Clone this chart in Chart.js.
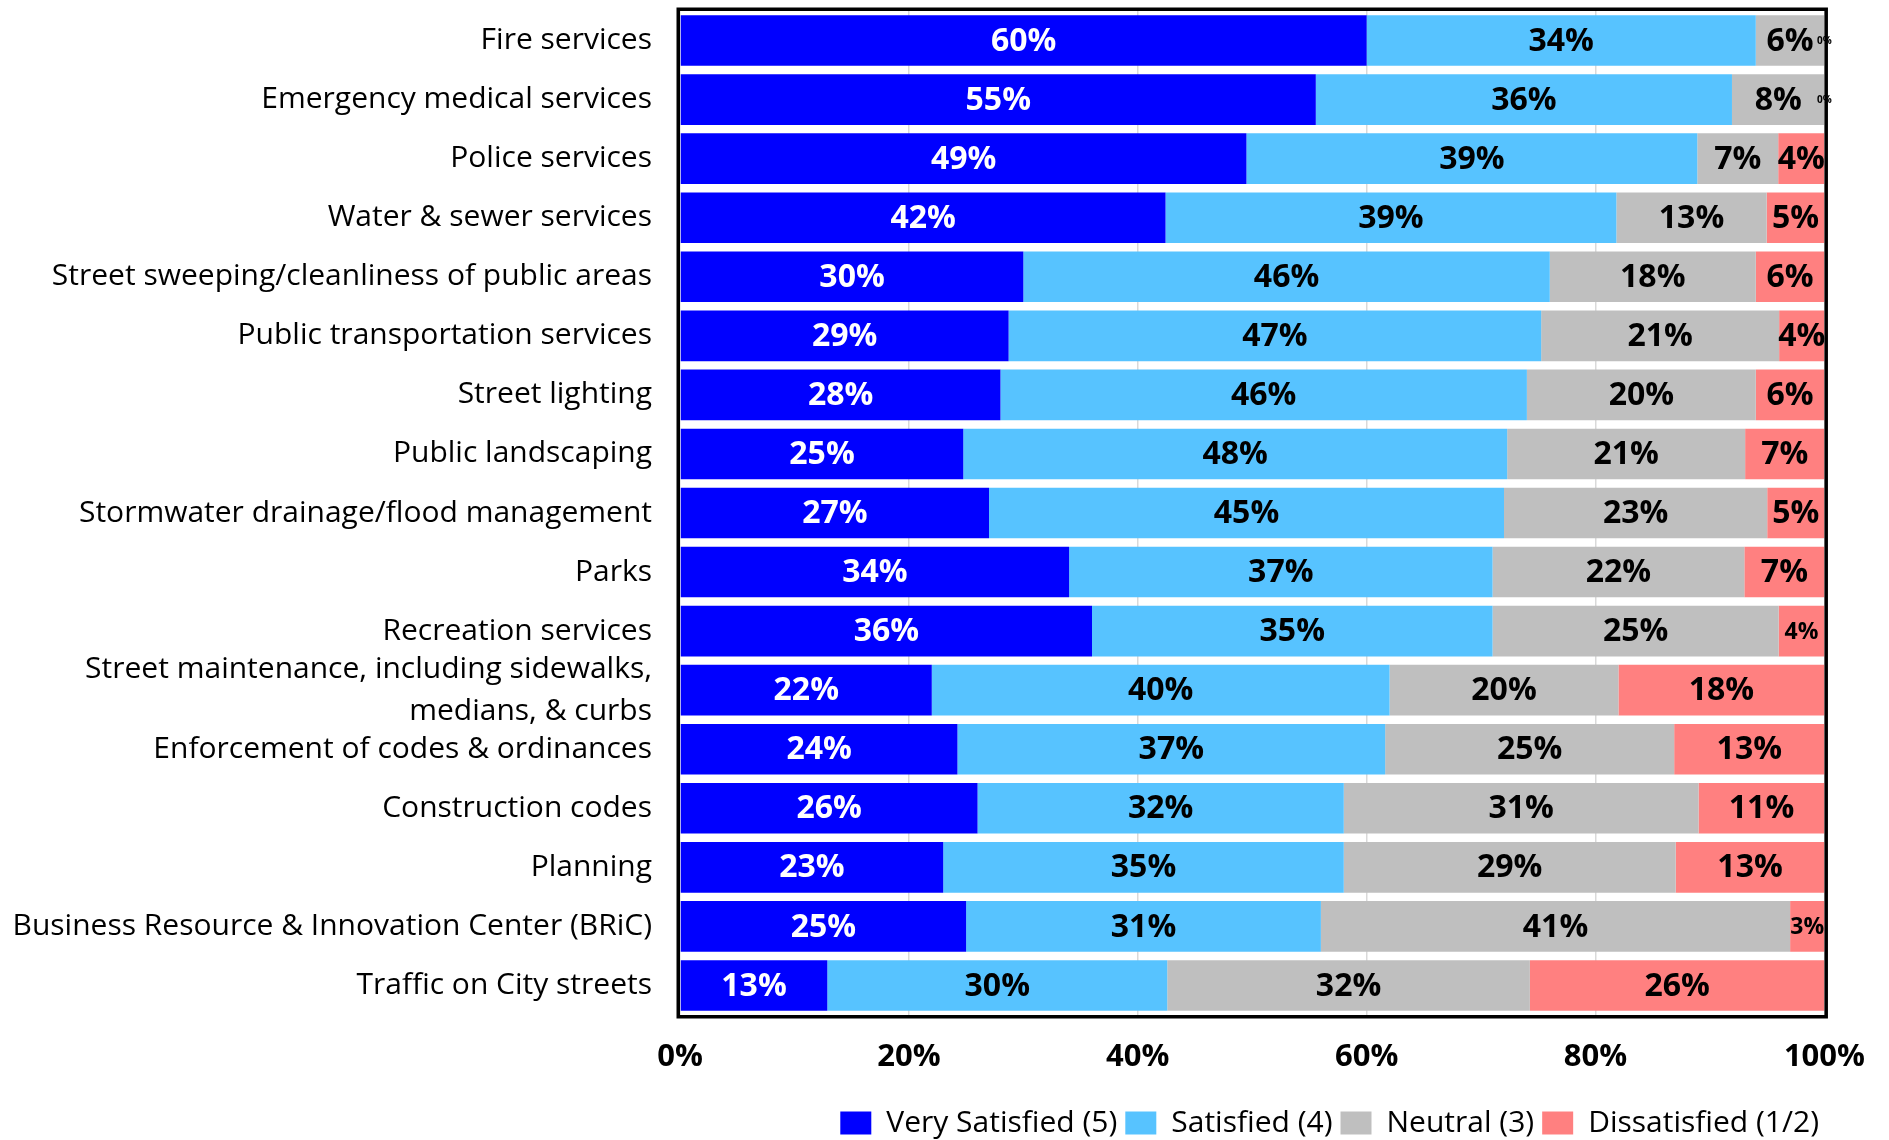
<!DOCTYPE html>
<html>
<head>
<meta charset="utf-8">
<script src="https://cdn.jsdelivr.net/npm/chart.js@4/dist/chart.umd.min.js"></script>
<style>
  html, body { margin: 0; padding: 0; background: #ffffff; }
  #wrap { width: 1889px; height: 1140px; position: relative; }
</style>
</head>
<body>
<div id="wrap"><canvas id="chart" width="1889" height="1140"></canvas></div>
<script>
// Resident satisfaction with city services (percent of respondents)
const categories = [
  'Fire services',
  'Emergency medical services',
  'Police services',
  'Water & sewer services',
  'Street sweeping/cleanliness of public areas',
  'Public transportation services',
  'Street lighting',
  'Public landscaping',
  'Stormwater drainage/flood management',
  'Parks',
  'Recreation services',
  ['Street maintenance, including sidewalks,', 'medians, & curbs'],
  'Enforcement of codes & ordinances',
  'Construction codes',
  'Planning',
  'Business Resource & Innovation Center (BRiC)',
  'Traffic on City streets'
];

const verySatisfied = [60, 55, 49, 42, 30, 29, 28, 25, 27, 34, 36, 22, 24, 26, 23, 25, 13];
const satisfied     = [34, 36, 39, 39, 46, 47, 46, 48, 45, 37, 35, 40, 37, 32, 35, 31, 30];
const neutral       = [ 6,  8,  7, 13, 18, 21, 20, 21, 23, 22, 25, 20, 25, 31, 29, 41, 32];
const dissatisfied  = [ 0,  0,  4,  5,  6,  4,  6,  7,  5,  7,  4, 18, 13, 11, 13,  3, 26];

const seriesNames = ['Very Satisfied (5)', 'Satisfied (4)', 'Neutral (3)', 'Dissatisfied (1/2)'];
const xTickLabels = ['0%', '20%', '40%', '60%', '80%', '100%'];

const seriesValues = [verySatisfied, satisfied, neutral, dissatisfied];
const seriesColors = ['#0000FF', '#57C3FF', '#BFBFBF', '#FF8080'];
const labelColors  = ['#FFFFFF', '#000000', '#000000', '#000000'];

// 100% stacked: each row is scaled to its own total
const rowTotals = categories.map((_, i) => seriesValues.reduce((s, arr) => s + arr[i], 0));
const shareOf = arr => arr.map((v, i) => v / rowTotals[i] * 100);

// Narrow segments get a reduced label size: "dataset:row"
const compactLabels = new Set(['3:10', '3:15']);
const tinyLabels = new Set(['3:0', '3:1']);

const FONT = "'Open Sans', 'DejaVu Sans', sans-serif";
const PLOT_BOTTOM = 1015;
const PAD_BOTTOM = -8;

const segmentLabels = {
  id: 'segmentLabels',
  afterDatasetsDraw(chart) {
    const ctx = chart.ctx;
    const a = chart.chartArea;
    // frame around the plot
    ctx.save();
    ctx.strokeStyle = '#000000';
    ctx.lineWidth = 3.5;
    ctx.strokeRect(a.left - 1.75, a.top - 1.75, a.right - a.left + 3.5, a.bottom - a.top + 3.5);
    ctx.restore();

    ctx.save();
    ctx.textAlign = 'center';
    ctx.textBaseline = 'middle';
    chart.data.datasets.forEach((ds, di) => {
      const meta = chart.getDatasetMeta(di);
      meta.data.forEach((bar, i) => {
        const raw = ds.rawValues[i];
        const key = di + ':' + i;
        let size = 32;
        if (compactLabels.has(key)) size = 23;
        if (tinyLabels.has(key)) size = 10;
        ctx.font = `bold ${size}px ${FONT}`;
        ctx.fillStyle = labelColors[di];
        const cx = (bar.x + bar.base) / 2;
        ctx.fillText(raw + '%', cx, bar.y + 1);
      });
    });
    ctx.restore();
  }
};

const datasets = seriesValues.map((arr, k) => ({
  label: seriesNames[k],
  data: shareOf(arr),
  rawValues: arr,
  backgroundColor: seriesColors[k],
  borderWidth: 0,
  barPercentage: 0.857,
  categoryPercentage: 1.0
}));

new Chart(document.getElementById('chart'), {
  type: 'bar',
  data: { labels: categories, datasets },
  plugins: [segmentLabels],
  options: {
    indexAxis: 'y',
    responsive: false,
    animation: false,
    layout: { padding: { left: 0, right: 62, top: 11, bottom: PAD_BOTTOM } },
    scales: {
      x: {
        stacked: true,
        min: 0,
        max: 100,
        border: { display: false },
        grid: { color: '#D9D9D9', lineWidth: 1.5, drawTicks: false },
        ticks: {
          stepSize: 20,
          padding: 24,
          color: '#000000',
          font: { family: FONT, size: 31, weight: 'bold' },
          callback: (v) => xTickLabels[Math.round(v / 20)]
        },
        afterFit(scale) {
          const lg = scale.chart.legend;
          const lh = lg && lg.height ? lg.height : 50;
          scale.height = (1140 - PAD_BOTTOM) - PLOT_BOTTOM - lh;
        }
      },
      y: {
        stacked: true,
        border: { display: false },
        grid: { display: false, drawTicks: false },
        ticks: {
          autoSkip: false,
          padding: 28,
          color: '#000000',
          font: { family: FONT, size: 30, lineHeight: 1.4 }
        },
        afterFit(scale) {
          scale.width = 680;
          scale.paddingTop = 0;
          scale.paddingBottom = 0;
        }
      }
    },
    plugins: {
      legend: {
        position: 'bottom',
        align: 'end',
        labels: {
          boxWidth: 31,
          boxHeight: 23,
          padding: 8,
          color: '#000000',
          font: { family: FONT, size: 30 }
        }
      },
      tooltip: { enabled: false }
    }
  }
});
</script>
</body>
</html>
